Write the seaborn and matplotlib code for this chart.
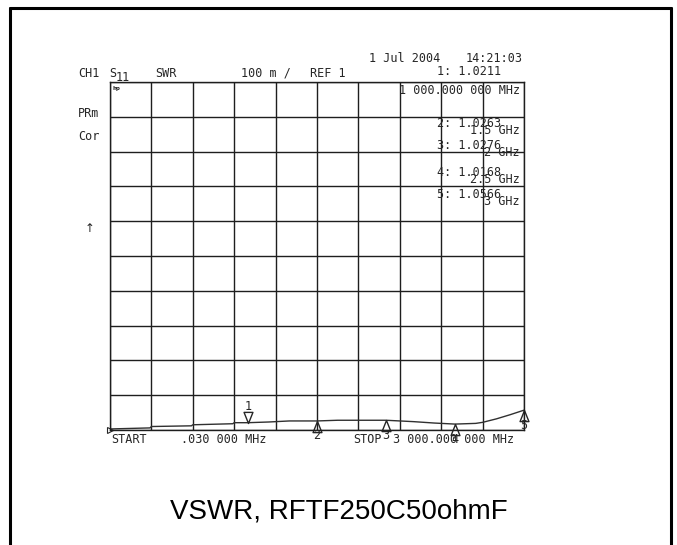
import matplotlib.pyplot as plt
import matplotlib.lines as mlines
from matplotlib.path import Path
import numpy as np
import pandas as pd
import seaborn as sns

sns.set_theme(style='white')
plt.rcParams['font.family'] = ['DejaVu Sans Mono', 'DejaVu Sans']

W, H = 677, 545

# trace (SWR vs frequency)
freq_mhz = [0.03, 290, 300, 590, 600, 890, 900, 1000, 1150, 1300, 1500, 1650,
            1800, 2000, 2100, 2200, 2350, 2500, 2650, 2700, 2800, 2900, 3000]
swr = [1.003, 1.006, 1.010, 1.012, 1.015, 1.018, 1.021, 1.021, 1.023, 1.026,
       1.026, 1.028, 1.028, 1.028, 1.026, 1.024, 1.020, 1.017, 1.019, 1.022,
       1.032, 1.044, 1.057]

# markers
marker_ids = ['1', '2', '3', '4', '5']
marker_freq = [1000, 1500, 2000, 2500, 3000]
marker_swr = [1.0211, 1.0263, 1.0276, 1.0168, 1.0566]
marker_freq_text = ['1 000.000 000 MHz', '1.5 GHz', '2 GHz', '2.5 GHz', '3 GHz']

start_mhz, stop_mhz = 0.03, 3000
ref_value, per_div = 1.0, 0.1

df = pd.DataFrame({'freq': freq_mhz, 'swr': swr})

fig = plt.figure(figsize=(W / 100, H / 100), dpi=100)
fig.patch.set_facecolor('white')

ink = '#262626'


def px(x, y):
    return x / W, 1 - y / H


def ftext(x, y, s, **kw):
    kw.setdefault('fontsize', 8.5)
    kw.setdefault('color', ink)
    kw.setdefault('va', 'baseline')
    fig.text(*px(x, y), s, **kw)


# outer frame (bottom edge runs off the page)
for (x0, y0, x1, y1) in [(10, 8, 671, 8), (10, 8, 10, 548), (671, 8, 671, 548)]:
    fig.add_artist(mlines.Line2D([x0 / W, x1 / W], [1 - y0 / H, 1 - y1 / H],
                                 color='black', lw=2.2, transform=fig.transFigure))

ax = fig.add_axes([110 / W, 1 - 430 / H, 414 / W, 348 / H])
ax.set_xlim(start_mhz, stop_mhz)
ax.set_ylim(ref_value, ref_value + 10 * per_div)
ax.set_xticks(np.linspace(start_mhz, stop_mhz, 11))
ax.set_yticks(np.linspace(ref_value, ref_value + 10 * per_div, 11))
ax.tick_params(length=0, labelbottom=False, labelleft=False)
ax.grid(True, color='#1e1e1e', lw=1.0)
for sp in ax.spines.values():
    sp.set_color('#1e1e1e')
    sp.set_linewidth(1.0)

sns.lineplot(data=df, x='freq', y='swr', ax=ax, color='#303030', lw=1.0,
             estimator=None, sort=False)
ax.set_xlabel('')
ax.set_ylabel('')

up = Path([(0, 0), (0.4, -1), (-0.4, -1), (0, 0)],
          [Path.MOVETO, Path.LINETO, Path.LINETO, Path.CLOSEPOLY])
down = Path([(0, 0), (0.4, 1), (-0.4, 1), (0, 0)],
            [Path.MOVETO, Path.LINETO, Path.LINETO, Path.CLOSEPOLY])

for i, (mid, f, v) in enumerate(zip(marker_ids, marker_freq, marker_swr)):
    active = i == 0
    ax.plot([f], [v], marker=down if active else up, ms=16, mfc='none',
            mec=ink, mew=1.0, clip_on=False, ls='none')
    ax.annotate(mid, (f, v), xytext=(0, 16 if active else -15),
                textcoords='offset pixels', ha='center', va='center',
                fontsize=8.5, color=ink, annotation_clip=False)

# reference position indicator at left of bottom line
ax.plot([start_mhz], [ref_value], marker='>', ms=4, mfc='none', mec=ink,
        mew=0.8, clip_on=False, ls='none')

# header texts
ftext(78, 77, 'CH1')
ftext(109, 77, 'S')
ftext(116, 81, '11')
ftext(155, 77, 'SWR')
ftext(241, 77, '100 m /')
ftext(310, 77, 'REF 1')
ftext(369, 62, '1 Jul 2004')
ftext(523, 62, '14:21:03', ha='right')
ftext(437, 75, f'{marker_ids[0]}: {marker_swr[0]:.4f}')
ftext(520, 94, marker_freq_text[0], ha='right')
fig.text(*px(113, 90), 'hp', fontsize=4, fontweight='bold', color=ink,
         family='DejaVu Sans')

ftext(78, 117, 'PRm')
ftext(78, 140, 'Cor')
ftext(90, 232, '\u2191', ha='center', family='DejaVu Sans')

readout_y = [127, 149, 176, 198]
for mid, v, ft, yb in zip(marker_ids[1:], marker_swr[1:], marker_freq_text[1:], readout_y):
    ftext(437, yb, f'{mid}: {v:.4f}')
    ftext(520, yb + 7, ft, ha='right')

# footer texts
ftext(111, 443, 'START')
ftext(181, 443, '.030 000 MHz')
ftext(353, 443, 'STOP')
ftext(393, 443, '3 000.000 000 MHz')

fig.text(0.5, 1 - 519 / H, 'VSWR, RFTF250C50ohmF', ha='center', va='baseline',
         fontsize=20, color='black', family='Liberation Sans')

fig.savefig('out.png', dpi=100, facecolor='white')
